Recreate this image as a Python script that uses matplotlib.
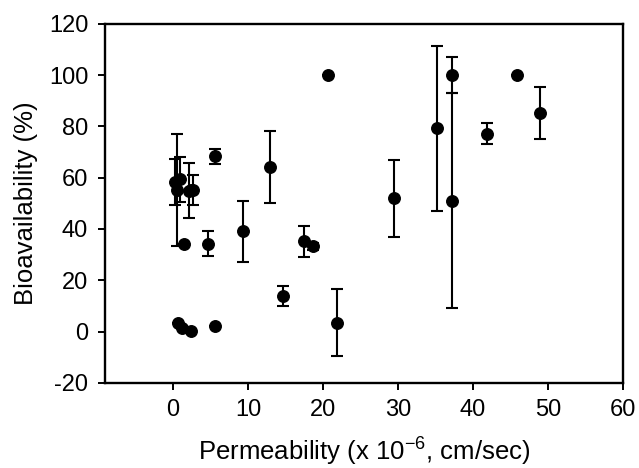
import matplotlib
matplotlib.use("Agg")
import matplotlib.pyplot as plt
import numpy as np

# permeability (x 1e-6 cm/sec), bioavailability (%), error (+/-)
perm = [0.2, 0.5, 0.9, 2.1, 2.7, 2.4, 1.4, 5.6, 4.7,
        0.7, 1.25, 2.45, 5.6,
        12.9, 9.35, 17.4, 18.6, 14.7, 21.8, 20.7,
        29.5, 35.2, 37.25, 37.2, 41.8, 45.85, 48.9]
bioav = [58.3, 55.3, 59.4, 55.0, 55.3, 55.3, 34.2, 68.3, 34.2,
         3.3, 1.4, 0.3, 2.2,
         64.2, 39.1, 35.2, 33.2, 14.0, 3.5, 100.1,
         52.0, 79.3, 51.1, 100.1, 77.2, 100.1, 85.2]
err = [9.0, 21.9, 8.8, 10.8, 5.9, 0.0, 0.0, 2.9, 4.9,
       0.0, 0.0, 0.0, 0.0,
       14.1, 12.0, 6.0, 1.5, 3.9, 13.0, 0.0,
       15.0, 32.2, 42.1, 7.0, 4.1, 0.0, 10.0]

x_ticks = [0, 10, 20, 30, 40, 50, 60]
y_ticks = [-20, 0, 20, 40, 60, 80, 100, 120]

plt.rcParams['font.family'] = ['Liberation Sans', 'DejaVu Sans']
plt.rcParams['axes.unicode_minus'] = False

fig = plt.figure(figsize=(6.39, 4.68), dpi=100)
ax = fig.add_axes([0.164, 0.182, 0.811, 0.767])

ax.errorbar(perm, bioav, yerr=err, fmt='o', color='black', markersize=8.3,
            ecolor='black', elinewidth=1.5, capsize=4, capthick=1.5)

ax.set_xlim(-9.1, 60)
ax.set_ylim(-20, 120)
ax.set_xticks(x_ticks)
ax.set_yticks(y_ticks)
ax.tick_params(direction='out', length=5, width=1.4, labelsize=17, pad=7)
for sp in ax.spines.values():
    sp.set_linewidth(1.7)

ax.set_xlabel(r'Permeability (x 10$^{\mathregular{-6}}$, cm/sec)', fontsize=18.5, labelpad=9)
ax.set_ylabel('Bioavailability (%)', fontsize=18.5, labelpad=8)

fig.savefig('out.png', dpi=100)
